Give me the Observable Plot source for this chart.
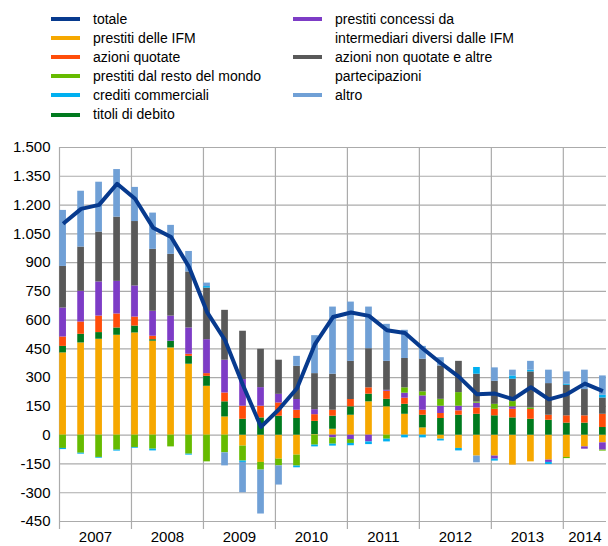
<!DOCTYPE html>
<html><head><meta charset="utf-8">
<script src="https://cdn.jsdelivr.net/npm/d3@7"></script>
<script src="https://cdn.jsdelivr.net/npm/@observablehq/plot@0.6"></script>
<style>
body{margin:0;background:#fff;font-family:"Liberation Sans",Arial,sans-serif;}
#wrap{position:relative;width:608px;height:546px;overflow:hidden;}
#legend{position:absolute;left:0;top:0;width:608px;height:135px;font-size:14px;color:#000;}
.txt{position:absolute;line-height:19px;white-space:nowrap;}
.sw{position:absolute;width:29px;height:4px;}
#chart{position:absolute;left:0;top:135px;}
</style></head><body>
<div id="wrap"><div id="legend"></div><div id="chart"></div></div>
<script>
// categories: quarters 2007 Q1 .. 2014 Q3
const years = [2007, 2008, 2009, 2010, 2011, 2012, 2013, 2014];
const quarters = years.flatMap(y => ["I", "II", "III", "IV"].map(q => y + " " + q)).slice(0, 31);
const yTicks = [-450, -300, -150, 0, 150, 300, 450, 600, 750, 900, 1050, 1200, 1350, 1500];

// series values (millions of euro)
const totale          = [1102,1180,1201,1311,1233,1082,1033,877,642,495,260,43,135,245,475,616,640,622,547,533,451,375,304,213,217,188,250,187,213,269,230];
const prestitiIFM     = [429,481,500,521,533,490,455,370,255,95,-57,-142,-125,-104,3,31,104,174,148,109,38,-21,-69,-109,-109,-156,-139,-130,-116,-61,-40];
const titoliDebito    = [34,45,35,38,36,8,35,41,52,79,83,90,99,87,69,68,44,40,39,52,66,87,104,109,101,90,83,78,63,63,40];
const azioniQuotate   = [49,64,86,73,47,18,0,11,14,46,68,61,69,43,35,31,38,33,42,32,26,26,23,33,34,45,51,26,38,38,69];
const prestitiAltri   = [151,160,178,170,162,130,131,137,177,171,139,97,45,56,26,-14,-23,-35,5,26,75,38,24,25,-16,13,0,-12,0,-12,-38];
const prestitiEstero  = [-69,-94,-116,-78,-64,-73,-61,-99,-139,-92,-78,-40,-35,-57,-52,-33,-20,0,-21,28,21,36,71,6,26,27,8,0,-6,0,-5];
const azioniNonQuot   = [217,231,260,335,336,323,322,292,269,260,252,200,178,173,188,188,199,204,151,153,170,174,163,145,120,117,188,165,159,137,85];
const creditiComm     = [-6,-5,-4,-5,-4,-9,0,-5,8,0,-7,0,0,-9,-9,-10,-12,-14,-14,-14,-14,-9,-13,35,-10,17,9,-11,6,0,14];
const altro           = [292,291,260,248,178,189,151,107,18,-68,-158,-229,-100,52,198,350,309,217,193,147,67,43,0,-35,70,30,46,70,64,101,101];

const seriesNames = ["prestiti delle IFM","titoli di debito","azioni quotate","prestiti concessi da intermediari diversi dalle IFM","prestiti dal resto del mondo","azioni non quotate e altre partecipazioni","crediti commerciali","altro"];
const seriesValues = [prestitiIFM, titoliDebito, azioniQuotate, prestitiAltri, prestitiEstero, azioniNonQuot, creditiComm, altro];
const seriesColors = ["#f6a800","#007a1e","#ff4d0a","#7d3cc6","#66bb00","#595959","#00b0f0","#70a0d6"];
const lineColor = "#073a8e";

// quarter position on a decimal-year axis
const pos = i => 2007.05 + 0.25 * i;
const halfW = 0.0465;

const rows = [];
seriesNames.forEach((s, k) => {
  seriesValues[k].forEach((v, i) => {
    rows.push({serie: s, q: quarters[i], x1: pos(i) - halfW, x2: pos(i) + halfW, value: v});
  });
});
const lineData = totale.map((v, i) => ({q: quarters[i], x: pos(i), value: v}));

const fmt = d => (d < 0 ? "-" : "") + d3.format(",")(Math.abs(d)).replace(/,/g, ".");
const yearLabelPos = years.map(y => y === 2014 ? 2014.3 : y + 0.5);

const chart = Plot.plot({
  width: 608,
  height: 411,
  marginTop: 12,
  marginBottom: 25,
  marginLeft: 59,
  marginRight: 2,
  style: {fontFamily: "'Liberation Sans', Arial, sans-serif", fontSize: "15px", color: "#000", background: "#fff"},
  x: {domain: [2007, 2014.6]},
  y: {domain: [-450, 1500]},
  color: {domain: seriesNames, range: seriesColors},
  marks: [
    Plot.gridY({ticks: yTicks, stroke: "#ababab", strokeOpacity: 1, strokeWidth: 1.2}),
    Plot.gridX({ticks: years, stroke: "#ababab", strokeOpacity: 1, strokeWidth: 1.2}),
    Plot.axisX({ticks: years, tickSize: 8, tickFormat: () => "", stroke: "#ababab", strokeWidth: 1.2, label: null}),
    Plot.axisX({ticks: yearLabelPos, tickSize: 0, tickPadding: 10, tickFormat: d => String(Math.floor(d)), label: null, fill: "#000"}),
    Plot.axisY({ticks: yTicks, tickSize: 0, tickPadding: 9, tickFormat: fmt, label: null, fill: "#000"}),
    Plot.rectY(rows, Plot.stackY({x1: "x1", x2: "x2", y: "value", fill: "serie", order: null})),
    Plot.line(lineData, {x: "x", y: "value", stroke: lineColor, strokeWidth: 4, strokeLinejoin: "round", strokeLinecap: "butt"})
  ]
});
document.getElementById("chart").appendChild(chart);

// legend
const legendItems = [
  {label: "totale", color: lineColor, col: 0, row: 0},
  {label: "prestiti delle IFM", color: seriesColors[0], col: 0, row: 1},
  {label: "azioni quotate", color: seriesColors[2], col: 0, row: 2},
  {label: "prestiti dal resto del mondo", color: seriesColors[4], col: 0, row: 3},
  {label: "crediti commerciali", color: seriesColors[6], col: 0, row: 4},
  {label: "titoli di debito", color: seriesColors[1], col: 0, row: 5},
  {label: "prestiti concessi da<br>intermediari diversi dalle IFM", color: seriesColors[3], col: 1, row: 0},
  {label: "azioni non quotate e altre<br>partecipazioni", color: seriesColors[5], col: 1, row: 2},
  {label: "altro", color: seriesColors[7], col: 1, row: 4}
];
const lg = document.getElementById("legend");
const rowY = r => 19 + 19.1 * r;
legendItems.forEach(it => {
  const swX = it.col === 0 ? 51 : 293;
  const txX = it.col === 0 ? 93 : 335;
  const cy = rowY(it.row);
  const sw = document.createElement("div");
  sw.className = "sw";
  sw.style.left = swX + "px";
  sw.style.top = (cy - 2) + "px";
  sw.style.background = it.color;
  lg.appendChild(sw);
  const t = document.createElement("div");
  t.className = "txt";
  t.style.left = txX + "px";
  t.style.top = (cy - 9.5) + "px";
  t.innerHTML = it.label;
  lg.appendChild(t);
});
</script>
</body></html>
